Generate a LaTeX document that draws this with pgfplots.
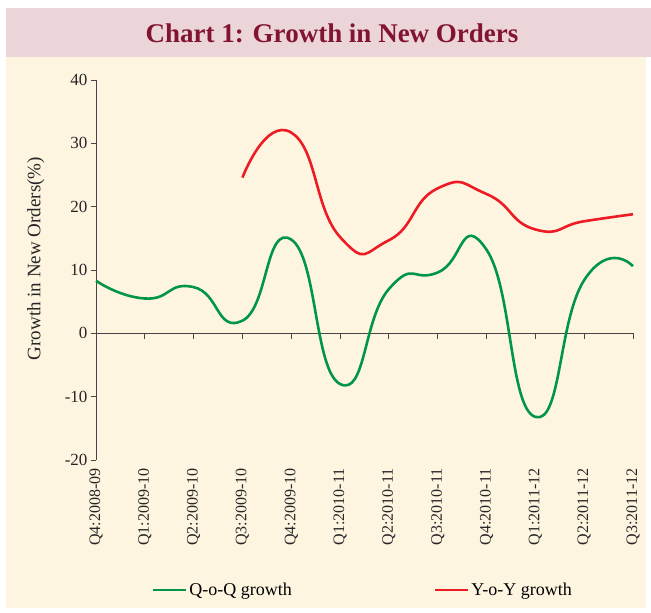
\documentclass[border=0pt]{standalone}
\usepackage{fontspec}
\setmainfont{Liberation Serif}
\usepackage{pgfplots}
\pgfplotsset{compat=1.18}
\definecolor{titlepink}{RGB}{235,213,217}
\definecolor{titlered}{RGB}{130,20,50}
\definecolor{cream}{RGB}{254,245,225}
\definecolor{qgreen}{RGB}{0,150,70}
\definecolor{yred}{RGB}{237,28,36}
\definecolor{axisgray}{RGB}{70,70,70}
\begin{document}
\begin{tikzpicture}
\fill[white] (0pt,0pt) rectangle (651pt,-613pt);
\fill[titlepink] (6pt,-8pt) rectangle (651pt,-57pt);
\fill[cream] (6pt,-57pt) rectangle (646pt,-608pt);
\node[text=titlered,font=\bfseries\fontsize{27}{30}\selectfont] at (332pt,-33pt) {Chart 1: Growth in New Orders};
\begin{axis}[
  at={(96pt,-460pt)}, anchor=south west,
  scale only axis, width=537pt, height=380pt,
  xmin=0, xmax=11, ymin=-20, ymax=40,
  axis lines*=left,
  x axis line style={draw=none},
  y axis line style={-, draw=axisgray, line width=0.9pt},
  xtick={0,...,11},
  xticklabels={Q4:2008-09,Q1:2009-10,Q2:2009-10,Q3:2009-10,Q4:2009-10,Q1:2010-11,Q2:2010-11,Q3:2010-11,Q4:2010-11,Q1:2011-12,Q2:2011-12,Q3:2011-12},
  xtick style={draw=none},
  xticklabel style={rotate=90, anchor=east, font=\fontsize{16}{18}\selectfont, text=black!85},
  ytick={-20,-10,0,10,20,30,40},
  ytick style={draw=axisgray, line width=0.9pt},
  tick align=outside, major tick length=5pt,
  yticklabel style={font=\fontsize{17}{19}\selectfont, text=black!85},
  /pgf/number format/assume math mode=true,
  ylabel={Growth in New Orders(\%)},
  every axis y label/.style={at={(axis description cs:-0.112,0.53)}, rotate=90, anchor=center, font=\fontsize{19}{21}\selectfont, text=black!85},
  legend columns=2,
  legend style={at={(axis description cs:0.497,-0.342)}, anchor=center, draw=none, fill=none,
    font=\fontsize{18}{20}\selectfont,
    /tikz/every even column/.append style={column sep=140pt}},
  legend image code/.code={\draw[#1] (0pt,0pt) -- (33pt,0pt);},
  clip=false,
]
\draw[axisgray, line width=0.9pt] (axis cs:0,0) -- (axis cs:11,0);
\pgfplotsinvokeforeach{0,...,11}{\draw[axisgray, line width=0.9pt] (axis cs:#1,0) -- ++(0pt,-5.5pt);}
\addplot[qgreen, line width=2.6pt, smooth, tension=0.95] coordinates {
(0,8.3) (1,5.5) (2,7.3) (3,2.0) (4,14.8) (5,-8.0) (6,7.0) (7,9.6) (8,13.2) (9,-13.2) (10,8.4) (11,10.6)};
\addlegendentry{Q-o-Q growth}
\addplot[yred, line width=2.6pt, smooth, tension=0.95] coordinates {
(3,24.6) (4,31.7) (5,15.2) (6,14.7) (7,22.9) (8,22.0) (9,16.4) (10,17.7) (11,18.8)};
\addlegendentry{Y-o-Y growth}
\end{axis}
\end{tikzpicture}
\end{document}
